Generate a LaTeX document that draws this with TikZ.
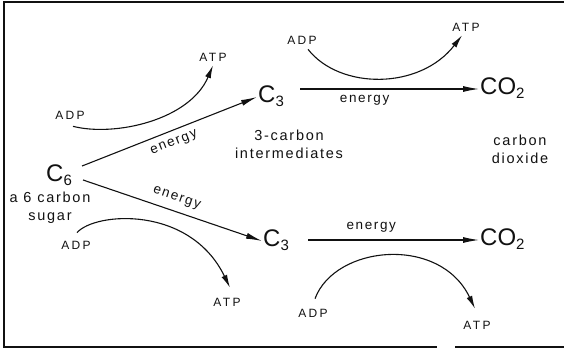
\documentclass[tikz,border=0pt]{standalone}
\usepackage{fontspec}
\setmainfont{Liberation Sans}
\newfontfamily\tagfont[LetterSpace=20]{Liberation Sans}
\newfontfamily\txtfont[LetterSpace=12]{Liberation Sans}
\usetikzlibrary{arrows.meta}
\definecolor{ink}{HTML}{111111}
\newcommand{\chsub}[1]{\raisebox{-4pt}{\fontsize{15}{15}\selectfont #1}}
\tikzset{
  every node/.style={text=ink},
  mol/.style ={font=\fontsize{24}{24}\selectfont, inner sep=1pt,
               text height=17pt, text depth=6pt},
  tag/.style ={font=\tagfont\fontsize{12}{12}\selectfont, inner sep=1pt},
  nrg/.style ={font=\txtfont\fontsize{13.5}{14}\selectfont, inner sep=1pt},
  txt/.style ={font=\txtfont\fontsize{14.5}{18}\selectfont, align=center, inner sep=1pt},
  ar/.style  ={-{Latex[length=16pt,width=6pt]}, line width=1.1pt, draw=ink},
  cyc/.style ={-{Latex[length=13pt,width=6pt]}, line width=1.1pt, draw=ink},
  rule/.style={line width=1.6pt, draw=ink},
}

\begin{document}
\begin{tikzpicture}[x=1pt, y=-1pt]
\useasboundingbox (0,0) rectangle (564,355);

% frame (open on the right)
\draw[rule] (564,2) -- (4,2) -- (4,347) -- (437,347);
\draw[rule] (455,347) -- (564,347);

% molecules
\node[mol, anchor=west] (C6)   at (45,176)  {C\chsub{6}};
\node[mol, anchor=west] (C3a)  at (257,97)  {C\chsub{3}};
\node[mol, anchor=west] (C3b)  at (262,241) {C\chsub{3}};
\node[mol, anchor=west] (CO2a) at (479,89)  {CO\chsub{2}};
\node[mol, anchor=west] (CO2b) at (479,240) {CO\chsub{2}};

\node[txt] (sugar) at (50,208) {a 6 carbon\\sugar};
\node[txt] (inter) at (289,144) {3-carbon\\intermediates};
\node[txt] (diox)  at (520,149) {carbon\\dioxide};

% ADP / ATP
\node[tag] (adp1) at (70,115)  {ADP};
\node[tag] (atp1) at (213,57)  {ATP};
\node[tag] (adp2) at (302,40)  {ADP};
\node[tag] (atp2) at (466,27)  {ATP};
\node[tag] (adp3) at (76,245)  {ADP};
\node[tag] (atp3) at (227,302) {ATP};
\node[tag] (adp4) at (313,313) {ADP};
\node[tag] (atp4) at (477,325) {ATP};

% main path
\draw[ar] ([xshift=9pt,yshift=10pt]C6.east) -- (C3a.west)
  node[nrg, pos=0.5, sloped, below=6pt] (e1) {energy};
\draw[ar] ([xshift=10pt,yshift=-4pt]C6.east) -- (C3b.west)
  node[nrg, pos=0.5, sloped, above=6pt] (e2) {energy};
\draw[ar, shorten <=15pt] (C3a.east |- CO2a.west) -- (CO2a.west)
  node[nrg, pos=0.41, below=5pt] (e3) {energy};
\draw[ar, shorten <=18pt] (C3b.east |- CO2b.west) -- (CO2b.west)
  node[nrg, pos=0.43, above=6pt] (e4) {energy};

% coupled ADP -> ATP
\draw[cyc] ([xshift=3pt,yshift=-6pt]adp1.south) .. controls (115,137) and (190,120) .. ([yshift=-3pt]atp1.south);
\draw[cyc] ([xshift=6pt,yshift=-4pt]adp2.south) .. controls (340,90) and (420,90) .. ([xshift=-4pt,yshift=-3pt]atp2.south);
\draw[cyc] ([xshift=1pt,yshift=7pt]adp3.north) .. controls (95,212) and (190,205) .. ([xshift=3pt,yshift=9pt]atp3.north);
\draw[cyc] ([xshift=2pt,yshift=9pt]adp4.north) .. controls (335,245) and (440,235) .. ([xshift=-2pt,yshift=11pt]atp4.north);

\end{tikzpicture}
\end{document}
